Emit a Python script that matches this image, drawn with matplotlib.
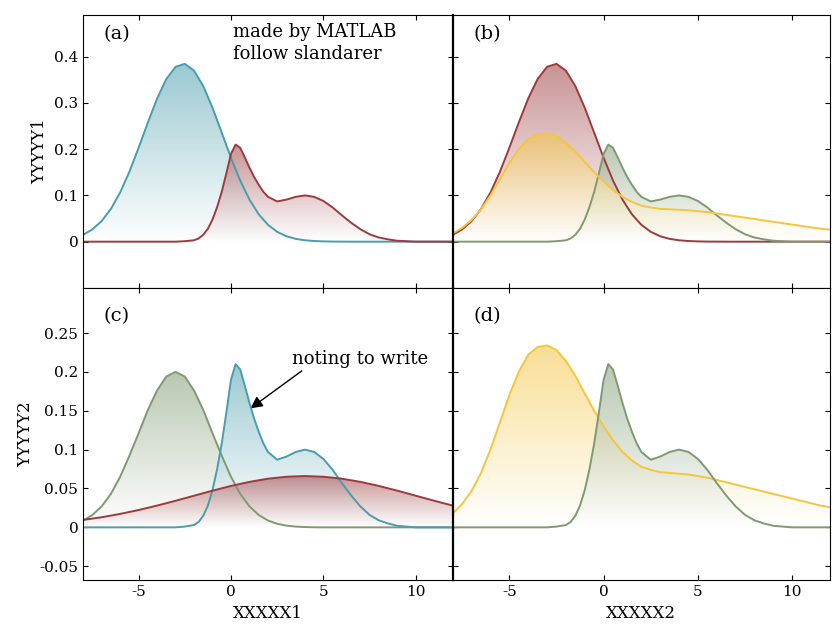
import numpy as np
import matplotlib.pyplot as plt
from matplotlib.colors import LinearSegmentedColormap, to_rgb

plt.rcParams['font.family'] = ['DejaVu Serif']
plt.rcParams['axes.unicode_minus'] = False

# shared x grid (step 0.5) for most curves
x = np.arange(-8, 12.01, 0.5)

blue_peak = [0.015, 0.0266, 0.0446, 0.0708, 0.1063, 0.151, 0.203, 0.2576, 0.3096, 0.3518,
             0.3782, 0.3846, 0.3699, 0.3365, 0.2895, 0.2356, 0.1813, 0.132, 0.0909, 0.0592,
             0.0365, 0.0213, 0.0117, 0.0061, 0.003, 0.0014, 0.0006, 0.0002, 0.0001, 0, 0,
             0, 0, 0, 0, 0, 0, 0, 0, 0, 0]
yellow = [0.018, 0.03, 0.047, 0.07, 0.1, 0.135, 0.17, 0.2, 0.222, 0.232, 0.234, 0.228,
          0.214, 0.195, 0.172, 0.15, 0.13, 0.112, 0.097, 0.086, 0.078, 0.074, 0.071, 0.07,
          0.069, 0.068, 0.066, 0.064, 0.061, 0.058, 0.055, 0.052, 0.049, 0.046, 0.043, 0.04,
          0.037, 0.034, 0.031, 0.028, 0.026]
green_c = [0.0088, 0.0159, 0.027, 0.043, 0.065, 0.092, 0.121, 0.151, 0.176, 0.194, 0.2,
           0.194, 0.176, 0.151, 0.121, 0.092, 0.065, 0.043, 0.027, 0.0159, 0.0088, 0.0046,
           0.0022, 0.001, 0.0004, 0.0001, 0, 0, 0, 0, 0, 0, 0, 0, 0, 0, 0, 0, 0, 0, 0]
# bimodal curve, finer sampling near the sharp peak
x_bi = [-8, -3, -2.5, -2, -1.75, -1.5, -1.25, -1, -0.75, -0.5, -0.25, 0, 0.25, 0.5, 0.75,
        1, 1.25, 1.5, 1.75, 2, 2.5, 3, 3.5, 4, 4.5, 5, 5.5, 6, 6.5, 7, 7.5, 8, 8.5, 9,
        9.5, 10, 12]
bimodal = [0, 0, 0.001, 0.003, 0.007, 0.015, 0.028, 0.048, 0.075, 0.108, 0.148, 0.19,
           0.21, 0.203, 0.182, 0.16, 0.14, 0.123, 0.108, 0.097, 0.087, 0.091, 0.097, 0.1,
           0.097, 0.088, 0.074, 0.057, 0.041, 0.027, 0.016, 0.009, 0.005, 0.002, 0.001, 0, 0]
# broad curve (step 1)
x_broad = np.arange(-8, 12.01, 1.0)
broad = [0.0096, 0.013, 0.0173, 0.0223, 0.028, 0.0342, 0.0407, 0.0472, 0.0533, 0.0585,
         0.0626, 0.0651, 0.066, 0.0651, 0.0626, 0.0585, 0.0533, 0.0472, 0.0407, 0.0342, 0.028]

TEAL = '#4a9dac'
RED = '#9c3b3e'
GREEN = '#7f9a72'
YELLOW = '#f4c53e'


def grad_fill(ax, xs, ys, color, alpha=0.55, z=1):
    xs = np.asarray(xs, float); ys = np.asarray(ys, float)
    poly = ax.fill_between(xs, 0, ys, color='none', lw=0)
    top = ys.max()
    c = to_rgb(color)
    cmap = LinearSegmentedColormap.from_list('g', [(1, 1, 1), c])
    grad = np.linspace(0, 1, 256).reshape(-1, 1)
    im = ax.imshow(grad, cmap=cmap, aspect='auto', origin='lower', alpha=alpha,
                   extent=[xs.min(), xs.max(), 0, top], zorder=z)
    im.set_clip_path(poly.get_paths()[0], transform=ax.transData)
    ax.plot(xs, ys, color=color, lw=1.4, zorder=10 + z)


fig = plt.figure(figsize=(8.4, 6.3), dpi=100)
L, M, R = 0.099, 0.539, 0.988
B, C, T = 0.079, 0.543, 0.976
axa = fig.add_axes([L, C, M - L, T - C])
axb = fig.add_axes([M, C, R - M, T - C])
axc = fig.add_axes([L, B, M - L, C - B])
axd = fig.add_axes([M, B, R - M, C - B])

grad_fill(axa, x, blue_peak, TEAL, z=1)
grad_fill(axa, x_bi, bimodal, RED, z=2)

grad_fill(axb, x, blue_peak, RED, z=1)
grad_fill(axb, x_bi, bimodal, GREEN, z=2)
grad_fill(axb, x, yellow, YELLOW, z=3)

grad_fill(axc, x, green_c, GREEN, z=1)
grad_fill(axc, x_bi, bimodal, TEAL, z=2)
grad_fill(axc, x_broad, broad, RED, z=3)

grad_fill(axd, x, yellow, YELLOW, z=1)
grad_fill(axd, x_bi, bimodal, GREEN, z=2)

for ax in (axa, axb):
    ax.set_ylim(-0.1, 0.49)
    ax.set_yticks([0, 0.1, 0.2, 0.3, 0.4])
for ax in (axc, axd):
    ax.set_ylim(-0.068, 0.308)
    ax.set_yticks([-0.05, 0, 0.05, 0.1, 0.15, 0.2, 0.25])
for ax in (axa, axb, axc, axd):
    ax.set_xlim(-8, 12)
    ax.set_xticks([-5, 0, 5, 10])
    ax.tick_params(direction='in', top=True, right=True, labelsize=11)
    for s in ax.spines.values():
        s.set_linewidth(0.8)
        s.set_zorder(30)
axa.set_yticklabels(['0', '0.1', '0.2', '0.3', '0.4'])
axc.set_yticklabels(['-0.05', '0', '0.05', '0.1', '0.15', '0.2', '0.25'])
axa.tick_params(labelbottom=False)
axb.tick_params(labelbottom=False, labelleft=False)
axd.tick_params(labelleft=False)
axb.spines['left'].set_linewidth(1.6)
axd.spines['left'].set_linewidth(1.6)

axa.set_ylabel('YYYYY1', fontsize=12)
axc.set_ylabel('YYYYY2', fontsize=12)
axc.set_xlabel('XXXXX1', fontsize=12)
axd.set_xlabel('XXXXX2', fontsize=12)

for ax, lab, yy in ((axa, '(a)', 0.45), (axb, '(b)', 0.45), (axc, '(c)', 0.272), (axd, '(d)', 0.272)):
    ax.text(-6.9, yy, lab, fontsize=14, va='center')
axa.text(0.1, 0.43, 'made by MATLAB\nfollow slandarer', fontsize=13, va='center', linespacing=1.3)
axc.annotate('noting to write', xy=(1.05, 0.153), xytext=(3.3, 0.21), fontsize=13,
             arrowprops=dict(arrowstyle='-|>', color='black', lw=1, mutation_scale=18,
                             shrinkA=0, shrinkB=0, relpos=(0.1, 0)))

plt.savefig('out.png', dpi=100)
